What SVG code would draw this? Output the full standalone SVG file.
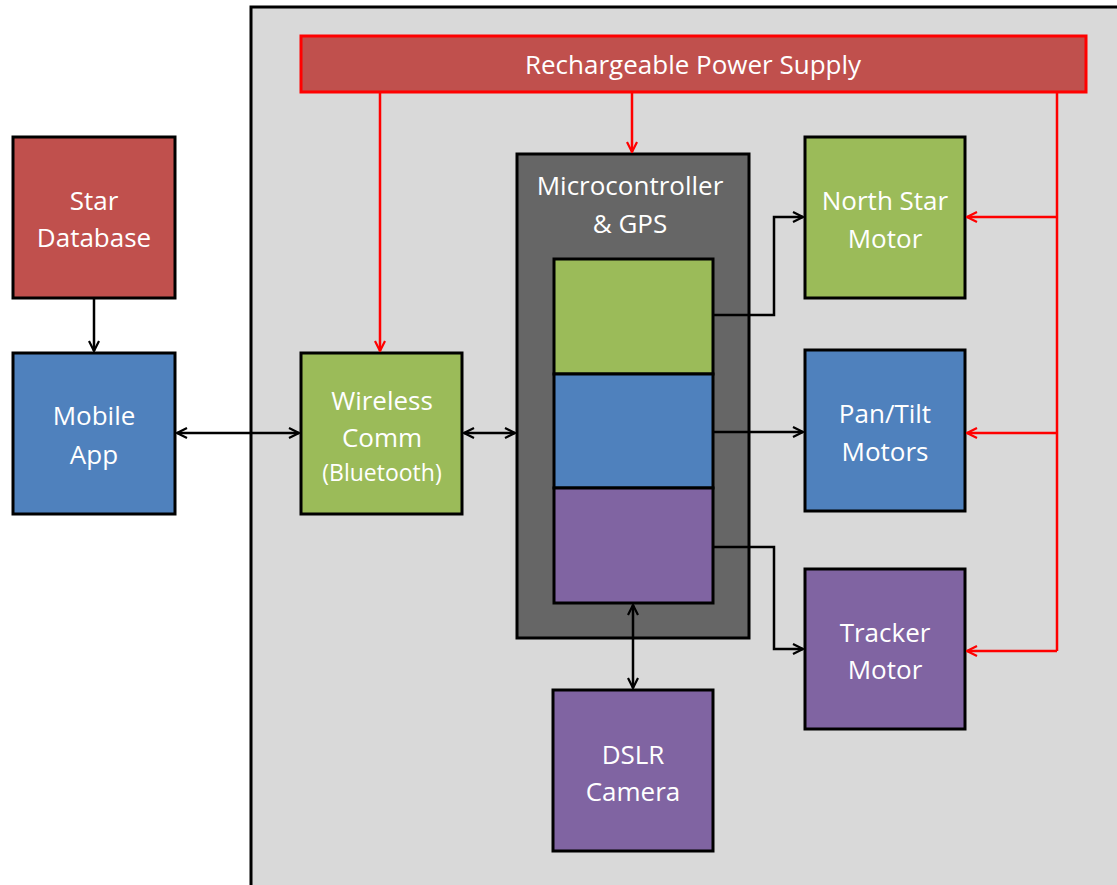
<svg xmlns="http://www.w3.org/2000/svg" width="1117" height="885" viewBox="0 0 1117 885">
  <style>
    .box { stroke: #000; stroke-width: 3; }
    .red { fill: #c0504d; }
    .blue { fill: #4f81bd; }
    .green { fill: #9bbb59; }
    .purple { fill: #8064a2; }
    .lbl { font-family: "Open Sans", Lato, sans-serif; font-size: 26px; fill: #fff; text-anchor: middle; }
    .small { font-size: 23px; }
    .wire { fill: none; stroke: #000; stroke-width: 2.5; }
    .pwr { fill: none; stroke: #ff0000; stroke-width: 2.5; }
  </style>
  <defs>
    <marker id="arrK" viewBox="0 0 12 12" refX="11" refY="6" markerWidth="12" markerHeight="12" markerUnits="userSpaceOnUse" orient="auto-start-reverse">
      <path d="M1,1 L11,6 L1,11" fill="none" stroke="#000" stroke-width="2.2"/>
    </marker>
    <marker id="arrR" viewBox="0 0 12 12" refX="11" refY="6" markerWidth="12" markerHeight="12" markerUnits="userSpaceOnUse" orient="auto">
      <path d="M1,1 L11,6 L1,11" fill="none" stroke="#ff0000" stroke-width="2.2"/>
    </marker>
  </defs>

  <rect width="1117" height="885" fill="#fff"/>

  <!-- device enclosure -->
  <g id="enclosure">
    <rect x="251" y="7" width="880" height="890" fill="#d9d9d9" stroke="#000" stroke-width="3"/>
  </g>

  <g id="power-supply">
    <rect x="301" y="36" width="785" height="56" class="red" stroke="#ff0000" stroke-width="3"/>
    <text x="693" y="74" class="lbl">Rechargeable Power Supply</text>
  </g>

  <g id="star-database">
    <rect x="13" y="137" width="162" height="161" class="box red"/>
    <text x="94" y="210" class="lbl">Star</text>
    <text x="94" y="247" class="lbl">Database</text>
  </g>

  <g id="mobile-app">
    <rect x="13" y="353" width="162" height="161" class="box blue"/>
    <text x="94" y="425" class="lbl">Mobile</text>
    <text x="94" y="464" class="lbl">App</text>
  </g>

  <g id="wireless-comm">
    <rect x="301" y="353" width="161" height="161" class="box green"/>
    <text x="382" y="410" class="lbl">Wireless</text>
    <text x="382" y="447" class="lbl">Comm</text>
    <text x="382" y="481" class="lbl small">(Bluetooth)</text>
  </g>

  <g id="microcontroller">
    <rect x="517" y="154" width="232" height="484" class="box" fill="#666666"/>
    <text x="630" y="195" class="lbl">Microcontroller</text>
    <text x="630" y="233" class="lbl">&amp; GPS</text>
    <rect x="554" y="259" width="159" height="115" class="box green"/>
    <rect x="554" y="374" width="159" height="114" class="box blue"/>
    <rect x="554" y="488" width="159" height="115" class="box purple"/>
  </g>

  <g id="north-star-motor">
    <rect x="805" y="137" width="160" height="161" class="box green"/>
    <text x="885" y="210" class="lbl">North Star</text>
    <text x="885" y="248" class="lbl">Motor</text>
  </g>

  <g id="pan-tilt-motors">
    <rect x="805" y="350" width="160" height="161" class="box blue"/>
    <text x="885" y="423" class="lbl">Pan/Tilt</text>
    <text x="885" y="461" class="lbl">Motors</text>
  </g>

  <g id="tracker-motor">
    <rect x="805" y="569" width="160" height="160" class="box purple"/>
    <text x="885" y="642" class="lbl">Tracker</text>
    <text x="885" y="679" class="lbl">Motor</text>
  </g>

  <g id="dslr-camera">
    <rect x="553" y="690" width="160" height="161" class="box purple"/>
    <text x="633" y="764" class="lbl">DSLR</text>
    <text x="633" y="801" class="lbl">Camera</text>
  </g>

  <g id="connectors">
    <!-- data links -->
    <path class="wire" d="M94,298 V351" marker-end="url(#arrK)"/>
    <path class="wire" d="M177,433 H299" marker-start="url(#arrK)" marker-end="url(#arrK)"/>
    <path class="wire" d="M464,433 H515" marker-start="url(#arrK)" marker-end="url(#arrK)"/>
    <path class="wire" d="M713,315 H774 V217 H803" marker-end="url(#arrK)"/>
    <path class="wire" d="M713,432 H803" marker-end="url(#arrK)"/>
    <path class="wire" d="M713,547 H774 V649 H803" marker-end="url(#arrK)"/>
    <path class="wire" d="M633,605 V688" marker-start="url(#arrK)" marker-end="url(#arrK)"/>
    <!-- power distribution -->
    <path class="pwr" d="M380,92 V351" marker-end="url(#arrR)"/>
    <path class="pwr" d="M632,92 V152" marker-end="url(#arrR)"/>
    <path class="pwr" d="M1057,92 V651"/>
    <path class="pwr" d="M1057,217 H967" marker-end="url(#arrR)"/>
    <path class="pwr" d="M1057,433 H967" marker-end="url(#arrR)"/>
    <path class="pwr" d="M1057,651 H967" marker-end="url(#arrR)"/>
  </g>
</svg>
